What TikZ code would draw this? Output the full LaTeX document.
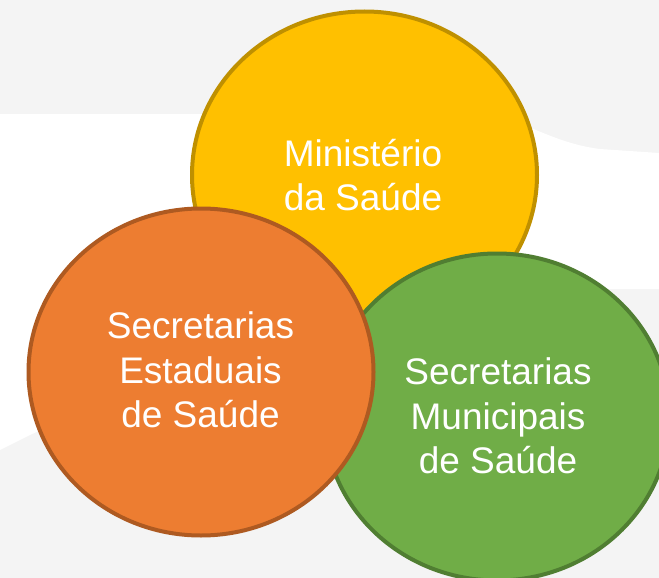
\documentclass[tikz,border=0pt]{standalone}
\usepackage{fontspec}
\setmainfont{Liberation Sans}
\usetikzlibrary{shapes.geometric}
\definecolor{msfill}{HTML}{FFC000}
\definecolor{msline}{HTML}{BF9000}
\definecolor{esfill}{HTML}{ED7D31}
\definecolor{esline}{HTML}{AE5A21}
\definecolor{mufill}{HTML}{70AD47}
\definecolor{muline}{HTML}{507E32}
\definecolor{bggray}{HTML}{F4F4F4}

\begin{document}
\begin{tikzpicture}[x=1pt,y=-1pt,
  circ/.style={ellipse,draw,line width=4pt,inner sep=0pt,
    minimum width=345pt,minimum height=327pt},
  txt/.style={text=white,align=center,inner sep=0pt,
    font=\fontsize{37}{44.5}\selectfont}]
\useasboundingbox (0,0) rectangle (659,578);
% background
\fill [bggray] (0,0) rectangle (659,578);
\fill [white] (0,114) -- (470,114) .. controls (520,114) and (545,142) .. (600,149) -- (659,153)
  -- (659,289) -- (560,289) .. controls (300,300) and (100,400) .. (0,450) -- cycle;
% circles
\node [circ,fill=msfill,draw=msline] (ms) at (364.5,175) {};
\node [circ,fill=mufill,draw=muline] (mu) at (497,417) {};
\node [circ,fill=esfill,draw=esline] (es) at (201,372) {};
% labels
\node [txt] (mstxt) at (363,175) {Ministério\\da Saúde};
\node [txt] (mutxt) at (498,416) {Secretarias\\Municipais\\de Saúde};
\node [txt] (estxt) at (200.5,370) {Secretarias\\Estaduais\\de Saúde};
\end{tikzpicture}
\end{document}
